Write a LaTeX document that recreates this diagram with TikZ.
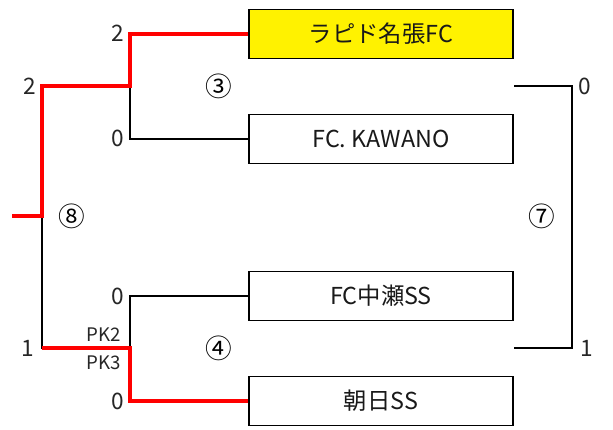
\documentclass[tikz,border=0pt]{standalone}
\usepackage{fontspec}
\setmainfont{Noto Sans CJK JP}
\tikzset{
  team/.style={draw,line width=1.1pt,minimum width=198pt,minimum height=36.5pt,
    font=\fontsize{17.5}{20}\selectfont,text=black!90},
  lose/.style={line width=1pt,black},
  win/.style={line width=3.2pt,red,line join=miter},
  score/.style={font=\fontsize{17}{19}\selectfont,inner sep=0pt,text=black!85},
  pk/.style={font=\fontsize{14}{16}\selectfont,inner sep=0pt,text=black!85},
  game/.style={font=\fontsize{20}{22}\selectfont,inner sep=0pt}
}
\begin{document}
\begin{tikzpicture}[x=0.75pt,y=-0.75pt]
    \useasboundingbox (0,0) rectangle (613,429);

    % Teams
    \node[team,fill=yellow] (rapid) at (381,34) {ラピド名張FC};
    \node[team] (kawano) at (381,139) {FC. KAWANO};
    \node[team] (nakase) at (381,296) {FC中瀬SS};
    \node[team] (asahi) at (381,401) {朝日SS};

    % Bracket points
    \coordinate (m3) at (130,86);
    \coordinate (m4) at (130,348);
    \coordinate (m8) at (42,216);
    \coordinate (out) at (12,216);
    \coordinate (r3) at (514,86);
    \coordinate (r4) at (514,348);
    \coordinate (m7) at (572,216);

    % Losers' lines
    \draw[lose] (kawano.west) -| (m3);
    \draw[lose] (nakase.west) -| (m4);
    \draw[lose] (m4) -| (m8);
    \draw[lose] (r3) -| (m7) |- (r4);

    % Winners' lines
    \draw[win] (rapid.west) -| (m3) -| (m8) -- (out);
    \draw[win] (asahi.west) -| (m4) -- (m4 -| m8);

    % Scores
    \node[score,anchor=east] (s1) at (124,33) {2};
    \node[score,anchor=east] (s2) at (124,138) {0};
    \node[score,anchor=east] (s3) at (36,86) {2};
    \node[score,anchor=east] (s4) at (124,296) {0};
    \node[score,anchor=east] (s5) at (124,401) {0};
    \node[score,anchor=east] (s6) at (34,348) {1};
    \node[pk,anchor=east] (pk1) at (121,335) {PK2};
    \node[pk,anchor=east] (pk2) at (121,363) {PK3};
    \node[score,anchor=west] (s7) at (578,86) {0};
    \node[score,anchor=west] (s8) at (580,348) {1};

    % Game numbers
    \node[game] (g3) at (219,86) {③};
    \node[game] (g4) at (219,348) {④};
    \node[game] (g8) at (72,216) {⑧};
    \node[game] (g7) at (542,216) {⑦};
\end{tikzpicture}
\end{document}
